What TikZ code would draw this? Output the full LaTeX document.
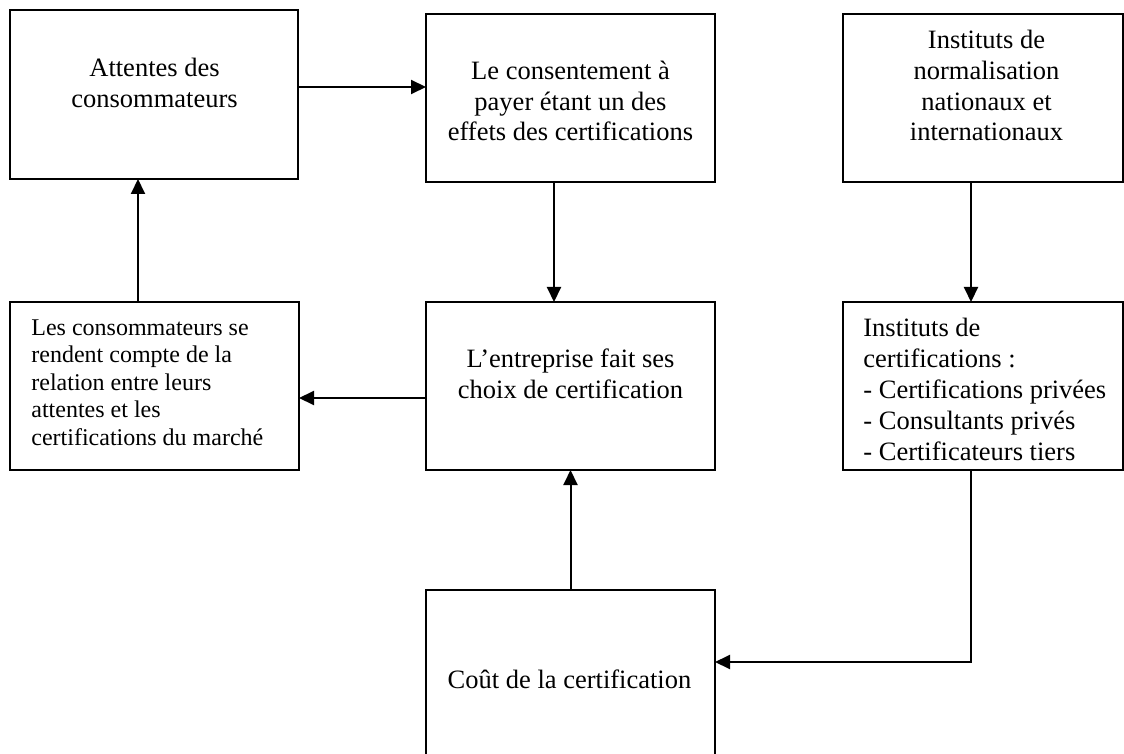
\documentclass[tikz,border=0pt]{standalone}
\usepackage{fontspec}
\setmainfont{Liberation Serif}
\usetikzlibrary{arrows.meta}
\tikzset{
  box/.style={draw, line width=1pt, rectangle, inner sep=0pt, outer sep=0pt},
  big/.style={font=\fontsize{13.25}{15.4}\selectfont, inner sep=0pt, anchor=base},
  small/.style={font=\fontsize{12}{13.75}\selectfont, inner sep=0pt, anchor=base west, align=left},
  arr/.style={line width=1pt, -{Triangle[length=7.5pt,width=7pt]}}
}
\begin{document}
\begin{tikzpicture}[x=0.5pt,y=-0.5pt]
\useasboundingbox (0,0) rectangle (1124,754);
\clip (0,0) rectangle (1124,754);
% boxes
\node[box, minimum width=144pt, minimum height=84.5pt] (b1) at (154,94.5) {};
\node[box, minimum width=144.5pt, minimum height=84pt] (b2) at (570.5,98) {};
\node[box, minimum width=139.75pt, minimum height=84pt] (b3) at (982.75,98) {};
\node[box, minimum width=144.5pt, minimum height=84pt] (b4) at (154.5,386) {};
\node[box, minimum width=144.5pt, minimum height=84pt] (b5) at (570.5,386) {};
\node[box, minimum width=139.75pt, minimum height=84pt] (b6) at (982.75,386) {};
\node[box, minimum width=144.5pt, minimum height=100pt] (b7) at (570.5,690) {};
% texts (base anchor = baseline of last line)
\node[big, align=center] (t1) at (154.5,107.5) {Attentes des\\consommateurs};
\node[big, align=center] (t2) at (570.5,141) {Le consentement à\\payer étant un des\\effets des certifications};
\node[big, align=center] (t3) at (986.5,141) {Instituts de\\normalisation\\nationaux et\\internationaux};
\node[small] (t4) at (31,445) {Les consommateurs se\\rendent compte de la\\relation entre leurs\\attentes et les\\certifications du marché};
\node[big, align=center] (t5) at (570.5,398) {L’entreprise fait ses\\choix de certification};
\node[big, anchor=base west, align=left] (t6) at (863,460) {Instituts de\\certifications :\\- Certifications privées\\- Consultants privés\\- Certificateurs tiers};
\node[big] (t7) at (569.5,688) {Coût de la certification};
% connectors
\draw[arr] (b1.east |- 0,87) -- (b2.west |- 0,87);
\draw[arr] (554,0 |- b2.south) -- (554,0 |- b5.north);
\draw[arr] (971,0 |- b3.south) -- (971,0 |- b6.north);
\draw[arr] (138,0 |- b4.north) -- (138,0 |- b1.south);
\draw[arr] (b5.west |- 0,398) -- (b4.east |- 0,398);
\draw[arr] (b7.north) -- (b7.north |- b5.south);
\draw[arr] (971,0 |- b6.south) |- (b7.east |- 0,662);
\end{tikzpicture}
\end{document}
